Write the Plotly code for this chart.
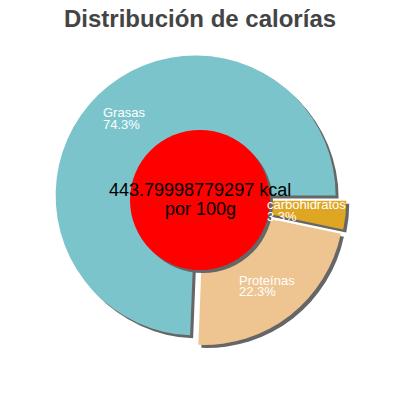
import plotly.graph_objects as go

labels = ["Grasas", "Proteínas", "carbohidratos"]
values = [74.3, 22.3, 3.3]
colors = ["#7bc4cc", "#eec591", "#dea623"]
pulls = [0.045, 0.045, 0.045]
center_lines = ["443.79998779297 kcal", "por 100g"]
title_text = "Distribución de calorías"

W = H = 400
cx, cy = 200, 200
half = 146.3
shadow_off = 3

def px_x(v):
    return v / W

def px_y(v):
    return 1 - v / H

# first slice starts at 3 o'clock and runs counterclockwise
rotation = 90 + 360 - 360 * values[0] / sum(values)

fig = go.Figure()

# shadow pie
fig.add_trace(go.Pie(
    labels=labels, values=values, sort=False, direction="counterclockwise",
    rotation=rotation, pull=pulls, textinfo="none", hoverinfo="skip",
    marker=dict(colors=["#666666"] * len(values), line=dict(width=0)),
    domain=dict(x=[px_x(cx - half + shadow_off), px_x(cx + half + shadow_off)],
                y=[px_y(cy + half + shadow_off), px_y(cy - half + shadow_off)]),
    showlegend=False,
))
# main pie
fig.add_trace(go.Pie(
    labels=labels, values=values, sort=False, direction="counterclockwise",
    rotation=rotation, pull=pulls, textinfo="none",
    marker=dict(colors=colors, line=dict(width=0)),
    domain=dict(x=[px_x(cx - half), px_x(cx + half)],
                y=[px_y(cy + half), px_y(cy - half)]),
    showlegend=False,
))

rc = 70
fig.add_shape(type="circle", xref="paper", yref="paper",
              x0=px_x(cx - rc + shadow_off), x1=px_x(cx + rc + shadow_off),
              y0=px_y(cy + rc + shadow_off), y1=px_y(cy - rc + shadow_off),
              fillcolor="#666666", line=dict(width=0), layer="above")
fig.add_shape(type="circle", xref="paper", yref="paper",
              x0=px_x(cx - rc), x1=px_x(cx + rc),
              y0=px_y(cy + rc), y1=px_y(cy - rc),
              fillcolor="#ff0000", line=dict(width=0), layer="above")

font_main = "Liberation Sans, Arial, sans-serif"

# center text
for i, line in enumerate(center_lines):
    fig.add_annotation(x=0.5, y=px_y(190 + 19 * i), xref="paper", yref="paper",
                       text=line, showarrow=False, xanchor="center", yanchor="middle",
                       font=dict(family=font_main, size=18, color="#000000"))

# slice labels (left anchors, pixels)
label_pos = [(101, 113), (237, 280), (265, 205)]
for (lx, ly), lab, val in zip(label_pos, labels, values):
    fig.add_annotation(x=px_x(lx), y=px_y(ly), xref="paper", yref="paper",
                       text=lab, showarrow=False, xanchor="left", yanchor="middle",
                       font=dict(family=font_main, size=13, color="#ffffff"))
    fig.add_annotation(x=px_x(lx), y=px_y(ly + 11.5), xref="paper", yref="paper",
                       text=f"{val}%", showarrow=False, xanchor="left", yanchor="middle",
                       font=dict(family=font_main, size=13, color="#ffffff"))

# title
fig.add_annotation(x=0.5, y=px_y(18), xref="paper", yref="paper",
                   text="<b>" + title_text + "</b>", showarrow=False,
                   xanchor="center", yanchor="middle",
                   font=dict(family=font_main, size=24, color="#444444"))

fig.update_layout(
    width=W, height=H,
    margin=dict(l=0, r=0, t=0, b=0),
    paper_bgcolor="#ffffff", plot_bgcolor="#ffffff",
)

fig.write_html("out.html", config={"displayModeBar": False},
               post_script="document.body.style.margin='0';")
